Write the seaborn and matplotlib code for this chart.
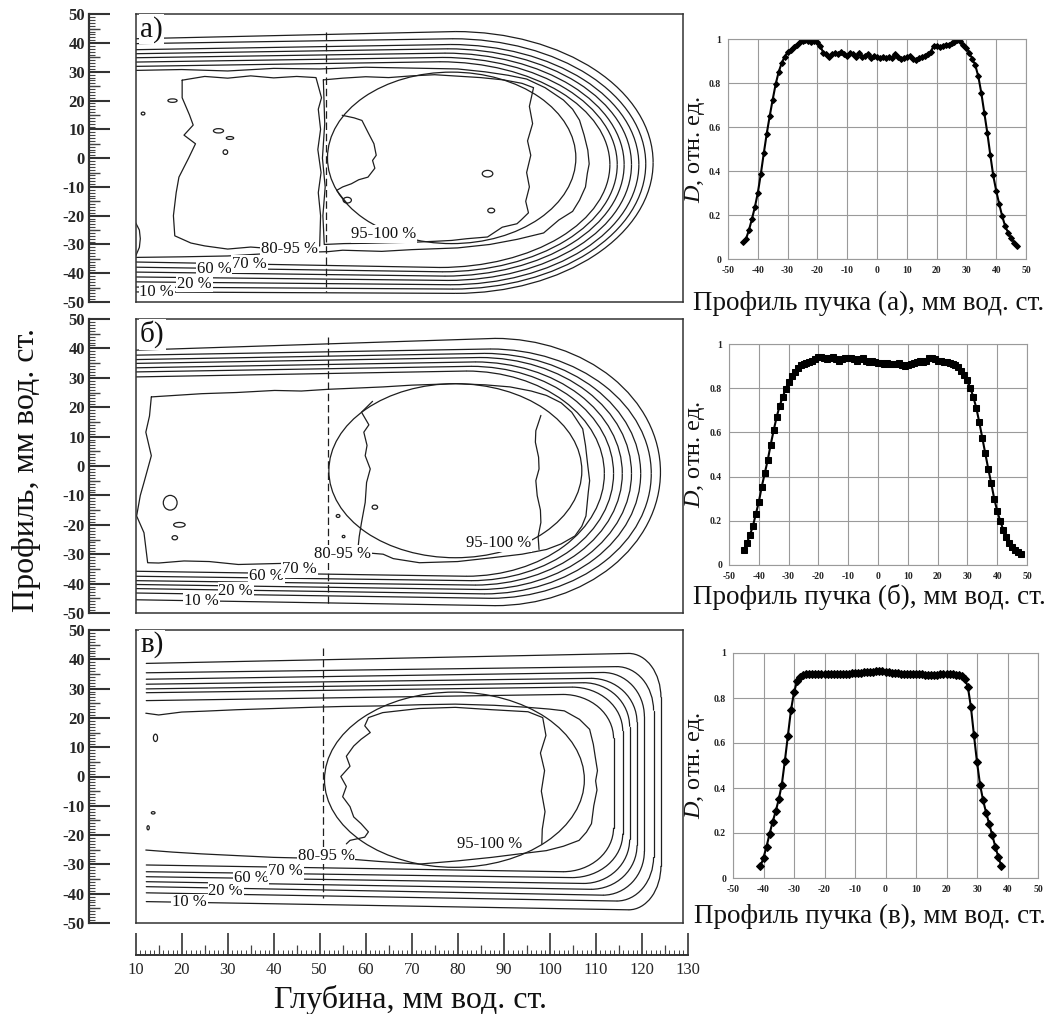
import numpy as np
import pandas as pd
import matplotlib
matplotlib.use("Agg")
import matplotlib.pyplot as plt
import seaborn as sns
from matplotlib.patches import Arc, Ellipse
from matplotlib.ticker import MultipleLocator

# ------------------------------------------------------------------
# Lateral beam profiles (right column), D in relative units
# ------------------------------------------------------------------
prof_a_x = list(range(-45, 48))
prof_a_d = [0.077, 0.09, 0.13, 0.18, 0.235, 0.30, 0.385, 0.48, 0.57, 0.65,
            0.725, 0.795, 0.85, 0.89, 0.92, 0.94, 0.95, 0.965, 0.975, 0.985,
            0.99, 0.995, 0.99, 0.985, 0.99, 0.985, 0.97, 0.935, 0.93, 0.92,
            0.93, 0.935, 0.93, 0.94, 0.93, 0.925, 0.935, 0.93, 0.92, 0.935,
            0.92, 0.925, 0.93, 0.915, 0.925, 0.92, 0.915, 0.918, 0.915, 0.92,
            0.915, 0.93, 0.92, 0.91, 0.915, 0.92, 0.925, 0.91, 0.905, 0.915,
            0.92, 0.925, 0.93, 0.94, 0.97, 0.97, 0.965, 0.97, 0.975, 0.975,
            0.98, 0.985, 0.995, 0.99, 0.975, 0.96, 0.935, 0.91, 0.88, 0.83,
            0.755, 0.665, 0.575, 0.475, 0.38, 0.31, 0.25, 0.195, 0.15, 0.12,
            0.095, 0.075, 0.06]

prof_b_x = list(range(-45, 49))
prof_b_d = [0.07, 0.10, 0.135, 0.175, 0.23, 0.285, 0.355, 0.415, 0.475, 0.545,
            0.61, 0.67, 0.72, 0.76, 0.795, 0.83, 0.855, 0.875, 0.89, 0.905,
            0.91, 0.915, 0.92, 0.925, 0.93, 0.94, 0.94, 0.935, 0.93, 0.935,
            0.94, 0.93, 0.925, 0.93, 0.935, 0.935, 0.935, 0.93, 0.925, 0.93,
            0.935, 0.925, 0.92, 0.925, 0.92, 0.915, 0.915, 0.91, 0.912, 0.91,
            0.91, 0.91, 0.915, 0.905, 0.90, 0.905, 0.91, 0.915, 0.92, 0.925,
            0.92, 0.925, 0.935, 0.935, 0.93, 0.925, 0.925, 0.92, 0.92, 0.915,
            0.91, 0.905, 0.895, 0.88, 0.86, 0.835, 0.80, 0.76, 0.71, 0.645,
            0.575, 0.505, 0.435, 0.37, 0.30, 0.245, 0.20, 0.16, 0.125, 0.10,
            0.08, 0.068, 0.06, 0.052]

prof_c_x = list(range(-41, 39))
prof_c_d = [0.052, 0.09, 0.14, 0.197, 0.25, 0.296, 0.35, 0.415, 0.52, 0.633,
            0.745, 0.825, 0.874, 0.895, 0.903, 0.905, 0.906, 0.906, 0.905, 0.905,
            0.905, 0.905, 0.905, 0.905, 0.905, 0.906, 0.906, 0.907, 0.908, 0.908,
            0.91, 0.91, 0.912, 0.913, 0.914, 0.915, 0.916, 0.917, 0.918, 0.918,
            0.918, 0.917, 0.915, 0.913, 0.911, 0.91, 0.908, 0.907, 0.906, 0.906,
            0.905, 0.905, 0.905, 0.905, 0.904, 0.904, 0.904, 0.904, 0.904, 0.905,
            0.905, 0.905, 0.905, 0.905, 0.904, 0.902, 0.898, 0.885, 0.85, 0.76,
            0.635, 0.515, 0.415, 0.345, 0.29, 0.24, 0.19, 0.14, 0.093, 0.052]

profile_xlabels = ["Профиль пучка (а), мм вод. ст.",
                   "Профиль пучка (б), мм вод. ст.",
                   "Профиль пучка (в), мм вод. ст."]
profile_markers = ["D", "s", "D"]

# ------------------------------------------------------------------
# Isodose lines 10..70 % (depth x, profile y, mm of water)
# ------------------------------------------------------------------
iso_levels = [10, 20, 30, 40, 50, 60, 70]

a_top_in = [41.5, 39.8, 37.7, 36.3, 34.9, 33.4, 31.9]
a_top_bend = [44.0, 41.5, 39.5, 38.0, 36.5, 35.0, 33.5]
a_bot_in = [-46.5, -44.8, -43.0, -41.3, -39.6, -37.9, -36.1]
a_bot_bend = [-47.0, -45.5, -44.0, -42.5, -41.0, -39.5, -38.0]
a_x_dist = [122.5, 120.9, 119.4, 117.8, 116.2, 114.7, 113.1]
a_rx = [43, 42, 41, 40, 39, 38, 37]

b_top_in = [39.4, 37.7, 36.2, 34.9, 33.4, 32.0, 30.3]
b_top_bend = [43.4, 39.8, 38.3, 36.9, 35.4, 33.9, 32.3]
b_bot_in = [-45.5, -43.2, -41.7, -40.3, -39.0, -37.5, -35.8]
b_bot_bend = [-47.5, -45.0, -43.5, -42.0, -40.5, -39.0, -37.5]
b_x_dist = [124.1, 122.1, 119.8, 117.8, 115.8, 113.9, 111.9]
b_rx = [36, 35, 34, 33, 32, 31, 30]

c_top_in = [38.6, 35.4, 33.2, 31.5, 29.9, 28.6, 25.9]
c_top_bend = [42.0, 37.5, 35.5, 33.5, 32.0, 30.5, 28.0]
c_bot_in = [-42.7, -39.7, -37.6, -35.9, -34.2, -32.5, -30.2]
c_bot_bend = [-45.5, -42.5, -40.5, -38.5, -36.5, -34.5, -32.5]
c_x_dist = [124.2, 122.6, 120.6, 119.0, 117.4, 115.9, 113.9]
c_rx = [7, 8, 9, 10, 10, 11, 11]
c_ry = [15, 15, 15, 15, 15, 15, 15]

# 80 % isodose (wiggly)
a80_x = [10, 20, 30, 40, 50, 60, 70, 80, 86, 91, 95, 99, 103, 105, 106.5, 107.5,
         108.3, 108.6, 108.2, 107.8, 106.5, 105, 102, 98.7, 93, 87, 80, 70, 63.5,
         55, 51.8, 45, 39.3, 30, 20, 10]
a80_y = [30.5, 30.8, 30.3, 31.2, 31.0, 31.6, 31.3, 31.0, 30.0, 28.8, 27.5, 24.5,
         20.2, 17.0, 13.2, 8.0, 2.8, -2.0, -5.3, -10.0, -14.6, -18.5, -21.5, -26.0,
         -28.2, -30.0, -31.2, -31.8, -32.4, -32.0, -32.5, -32.8, -33.1, -34.0,
         -34.3, -34.5]

b80_x = [13.4, 24.4, 32, 40.2, 46, 52, 58, 63.8, 70, 79.6, 86, 91.4, 96, 99.3,
         102.5, 104.8, 107.2, 107.8, 108.3, 108.7, 108.4, 107.9, 107.0, 105.5,
         102.5, 99.3, 94, 87.5, 80, 71.7, 66, 63.8, 60, 56, 52, 48.1, 40, 32.3,
         26, 20.5, 15, 12.6, 11.8, 10.2, 11.0, 11.8, 13.4, 12.2, 13.0, 13.4]
b80_y = [23.5, 24.6, 25.0, 25.7, 25.5, 26.1, 26.5, 26.9, 27.5, 28.0, 27.6, 26.9,
         25.5, 24.0, 21.5, 18.3, 12.6, 7.0, 0.1, -5.0, -9.0, -17.0, -20.5, -23.8,
         -26.5, -28.4, -30.0, -31.2, -32.5, -32.9, -31.5, -30.0, -29.5, -28.4,
         -30.5, -32.9, -33.2, -33.5, -32.5, -32.3, -33.0, -32.9, -22.7, -17.0,
         -10.0, -5.6, 3.5, 11.5, 17.0, 23.5]

c80_x = [12.2, 15, 20, 25, 32.1, 40, 47.9, 55, 63.7, 72, 79.5, 88, 95.3, 100,
         103.2, 106.5, 108.7, 109.5, 109.9, 110.4, 110.0, 110.3, 109.6, 109.1,
         108.0, 106.4, 103, 99.3, 93, 87.4, 80, 71.6, 63, 55.8, 48, 40, 32,
         24.2, 18, 12.2]
c80_y = [21.6, 21.0, 22.0, 22.3, 22.8, 23.2, 23.6, 23.9, 24.1, 24.5, 24.7, 24.3,
         23.6, 23.0, 22.4, 19.5, 16.1, 11.0, 6.9, 2.0, -1.5, -4.6, -10.0, -16.1,
         -19.0, -21.8, -23.8, -25.3, -26.5, -27.6, -28.8, -29.9, -29.0, -28.1,
         -27.9, -27.6, -27.0, -26.4, -25.8, -25.1]

# 95 % isodose pieces
a95_left_x = [20.1, 25, 30, 35, 40, 45, 49.2, 49.8, 50.4, 49.7, 50.2, 49.6, 50.3,
              49.7, 50.2, 50.0, 45, 40, 35, 30, 25, 22, 18.5, 18.2, 18.8, 19.4,
              21.5, 23.0, 20.5, 22.5, 21.7, 20.1, 20.1]
a95_left_y = [27.1, 28.4, 27.8, 28.6, 27.9, 28.4, 28.0, 24.5, 21.0, 17.0, 10.0,
              3.0, -5.0, -12.0, -20.0, -30.5, -31.2, -31.5, -30.9, -31.6, -30.5,
              -29.5, -27.0, -20.0, -12.0, -6.6, 0.0, 5.0, 8.0, 11.5, 15.0, 21.0, 27.1]
a95_right_x = [50.8, 55, 60, 65, 70, 75, 80, 85, 90, 94, 96.5, 95.6, 96.3, 95.2,
               95.9, 95.0, 95.6, 94.8, 95.4, 93.8, 92.9, 89.7, 86.5, 82, 78.7, 75,
               70.9, 65, 60, 55.3, 51.0, 50.7, 51.2, 50.6, 51.1, 50.8]
a95_right_y = [27.2, 27.8, 28.3, 28.0, 28.6, 29.0, 28.5, 28.0, 27.2, 26.0, 24.5,
               18.0, 12.0, 6.0, 1.0, -5.0, -10.0, -15.0, -19.0, -21.5, -22.8, -24.0,
               -27.4, -28.0, -28.6, -28.9, -29.2, -29.4, -29.6, -29.7, -30.0, -20.0,
               -10.0, 0.0, 12.0, 27.2]
a95_inner_x = [54.9, 57.5, 59.2, 60.5, 61.8, 62.3, 61.5, 62.0, 60.5, 58.5, 56.9,
               55.0, 53.7, 54.8, 56.0]
a95_inner_y = [14.9, 14.0, 13.1, 9.0, 5.0, 1.0, -0.8, -3.5, -6.6, -7.5, -8.9,
               -10.0, -11.2, -13.5, -15.8]

b95_left_x = [61.5, 59.1, 60.7, 59.6, 60.3, 59.9, 61.0, 60.2, 59.9, 59.1, 58.6, 58.3]
b95_left_y = [22.0, 18.3, 14.0, 11.5, 7.0, 3.5, -1.0, -5.6, -12.4, -19.2, -24.0, -28.4]
b95_right_x = [98.1, 97.0, 96.9, 97.6, 97.7, 97.0, 97.3, 98.0, 98.1, 97.5, 97.7]
b95_right_y = [17.2, 12.0, 8.1, 3.0, -1.0, -5.0, -10.1, -15.0, -19.2, -24.0, -28.4]

c95_x = [55.8, 56.6, 59.8, 60.6, 59.0, 57.4, 56.6, 55.0, 55.8, 54.6, 56.6, 55.8,
         57.4, 59.0, 61.0, 59.8, 60.6, 63.7, 71.6, 79.5, 87.4, 95.3, 98.5, 99.2,
         98.0, 98.9, 98.2, 99.0, 98.4, 98.3]
c95_y = [-23.0, -21.8, -20.7, -18.9, -16.1, -13.8, -10.3, -6.9, -3.4, 0.0, 3.5,
         6.9, 10.4, 12.7, 15.0, 17.3, 20.1, 21.8, 23.2, 23.6, 22.8, 22.1, 20.1,
         14.0, 8.0, 2.0, -5.0, -12.0, -18.0, -23.0]

# small islands (x, y, w, h)
a_blob_x = [18.0, 28.0, 30.5, 29.5, 86.5, 87.3, 11.6, 56.0]
a_blob_y = [20.0, 9.5, 7.0, 2.1, -5.4, -18.2, 15.5, -14.6]
a_blob_w = [2.0, 2.2, 1.6, 1.0, 2.3, 1.5, 0.8, 1.8]
a_blob_h = [1.2, 1.5, 1.0, 1.6, 2.3, 1.6, 1.0, 2.0]
b_blob_x = [17.5, 19.5, 18.5, 54.0, 55.2, 62.0]
b_blob_y = [-12.5, -20.0, -24.4, -17.0, -24.0, -14.0]
b_blob_w = [3.0, 2.5, 1.2, 0.8, 0.6, 1.2]
b_blob_h = [5.0, 1.6, 1.4, 1.0, 0.8, 1.4]
c_blob_x = [14.3, 13.8, 12.7]
c_blob_y = [13.2, -12.4, -17.5]
c_blob_w = [0.9, 0.8, 0.5]
c_blob_h = [2.5, 0.8, 1.4]

# tumour outline (ellipse) and marked depth (dashed)
target_cx = [78.7, 79.5, 79.3]
target_cy = [0.1, -1.6, -1.1]
target_w = [54.0, 55.0, 56.5]
target_h = [59.6, 59.2, 59.8]
mark_depth = [51.3, 51.8, 50.8]
mark_top = [43.9, 44.0, 43.9]
mark_bot = [-46.5, -47.0, -41.5]

panel_names = ["а)", "б)", "в)"]
lbl_texts = ["10 %", "20 %", "60 %", "70 %", "80-95 %", "95-100 %"]
a_lbl_x = [10.8, 19.0, 23.3, 31.0, 37.3, 56.9]
a_lbl_y = [-46.5, -43.6, -38.4, -36.7, -31.5, -26.3]
b_lbl_x = [20.5, 28.0, 34.7, 41.8, 48.8, 81.9]
b_lbl_y = [-46.0, -42.6, -37.5, -35.2, -30.0, -26.1]
c_lbl_x = [17.9, 25.8, 31.3, 38.8, 45.2, 79.9]
c_lbl_y = [-43.0, -39.0, -34.5, -32.2, -27.0, -23.0]

depth_ticks = list(range(10, 131, 10))
profile_ticks = list(range(-50, 51, 10))
dose_ticks = [0, 0.2, 0.4, 0.6, 0.8, 1.0]
dose_ticklabels = ["0", "0.2", "0.4", "0.6", "0.8", "1"]

# ------------------------------------------------------------------
sns.set_theme(style="white")
plt.rcParams["font.family"] = ["Liberation Serif", "DejaVu Serif"]
plt.rcParams["mathtext.fontset"] = "custom"
plt.rcParams["mathtext.rm"] = "Liberation Serif"
plt.rcParams["mathtext.it"] = "Liberation Serif:italic"
plt.rcParams["axes.unicode_minus"] = False

W, H = 1047, 1014
fig = plt.figure(figsize=(W / 100, H / 100), dpi=100)
fig.patch.set_facecolor("white")


def fr(left, top, right, bottom):
    return [left / W, 1 - bottom / H, (right - left) / W, (bottom - top) / H]


LC = "#1e1e1e"
LW = 0.9


def draw_u(ax, x0, yt0, yt1, yb0, yb1, xd, rx, ry=None):
    if ry is None:
        ry = (yt1 - yb1) / 2.0
    xc = xd - rx
    ax.plot([x0, xc], [yt0, yt1], color=LC, lw=LW)
    ax.add_patch(Arc((xc, yt1 - ry), 2 * rx, 2 * ry, theta1=0, theta2=90,
                     edgecolor=LC, lw=LW))
    if yt1 - ry > yb1 + ry:
        ax.plot([xd, xd], [yt1 - ry, yb1 + ry], color=LC, lw=LW)
    ax.add_patch(Arc((xc, yb1 + ry), 2 * rx, 2 * ry, theta1=270, theta2=360,
                     edgecolor=LC, lw=LW))
    ax.plot([xc, x0], [yb1, yb0], color=LC, lw=LW)


contour_boxes = [fr(135.7, 14.3, 683, 302), fr(135.7, 319, 683, 613), fr(135.7, 630, 683, 923)]
U_sets = [
    (10.0, a_top_in, a_top_bend, a_bot_in, a_bot_bend, a_x_dist, a_rx, None),
    (10.0, b_top_in, b_top_bend, b_bot_in, b_bot_bend, b_x_dist, b_rx, None),
    (12.3, c_top_in, c_top_bend, c_bot_in, c_bot_bend, c_x_dist, c_rx, c_ry),
]
iso80 = [(a80_x, a80_y), (b80_x, b80_y), (c80_x, c80_y)]
iso95 = [[(a95_left_x, a95_left_y), (a95_right_x, a95_right_y), (a95_inner_x, a95_inner_y)],
         [(b95_left_x, b95_left_y), (b95_right_x, b95_right_y)],
         [(c95_x, c95_y)]]
blobs = [(a_blob_x, a_blob_y, a_blob_w, a_blob_h),
         (b_blob_x, b_blob_y, b_blob_w, b_blob_h),
         (c_blob_x, c_blob_y, c_blob_w, c_blob_h)]
lbls = [(a_lbl_x, a_lbl_y), (b_lbl_x, b_lbl_y), (c_lbl_x, c_lbl_y)]

for i in range(3):
    ax = fig.add_axes(contour_boxes[i])
    ax.set_xlim(10, 129)
    ax.set_ylim(-50, 50)
    ax.set_xticks([])
    ax.set_yticks([])
    for s in ax.spines.values():
        s.set_visible(True)
        s.set_color("#333333")
        s.set_linewidth(1.1)
    x0, ti, tb, bi, bb, xd, rx, ry = U_sets[i]
    for k in range(len(iso_levels)):
        draw_u(ax, x0, ti[k], tb[k], bi[k], bb[k], xd[k], rx[k],
               None if ry is None else ry[k])
    ax.plot(iso80[i][0], iso80[i][1], color=LC, lw=LW)
    for px, py in iso95[i]:
        ax.plot(px, py, color=LC, lw=LW)
    bx, by, bw, bh = blobs[i]
    for k in range(len(bx)):
        ax.add_patch(Ellipse((bx[k], by[k]), bw[k], bh[k], fill=False,
                             edgecolor=LC, lw=LW))
    ax.add_patch(Ellipse((target_cx[i], target_cy[i]), target_w[i], target_h[i],
                         fill=False, edgecolor=LC, lw=LW))
    ax.plot([mark_depth[i], mark_depth[i]], [mark_top[i], mark_bot[i]],
            color=LC, lw=0.9, ls=(0, (6, 3)))
    if i == 0:
        ax.plot([10, 10.8, 11.0, 10.8, 10], [-22.5, -25, -28, -31, -34], color=LC, lw=LW)
    lx, ly = lbls[i]
    for k, t in enumerate(lbl_texts):
        ax.text(lx[k], ly[k], t, ha="left", va="center", fontsize=12,
                color="#111111",
                bbox=dict(boxstyle="square,pad=0.05", fc="white", ec="none"))
    ax.text(0.008, 0.995, panel_names[i], transform=ax.transAxes, ha="left",
            va="top", fontsize=21, color="#111111",
            bbox=dict(boxstyle="square,pad=0.05", fc="white", ec="none"))

    # left scale for this panel
    sc = fig.add_axes([89 / W, contour_boxes[i][1], 0.0005, contour_boxes[i][3]])
    sc.set_ylim(-50, 50)
    sc.set_xticks([])
    for nm, s in sc.spines.items():
        s.set_visible(nm == "left")
    sc.spines["left"].set_color("#333333")
    sc.spines["left"].set_linewidth(1.6)
    sc.yaxis.set_major_locator(MultipleLocator(10))
    sc.yaxis.set_minor_locator(MultipleLocator(1))
    sc.tick_params(axis="y", which="major", direction="in", length=15, width=1.5,
                   color="#333333", labelsize=12, pad=3, left=True)
    sc.tick_params(axis="y", which="minor", direction="in", length=4, width=0.8,
                   color="#444444", left=True)
    for t in sc.get_yticklabels():
        t.set_fontweight("bold")
    sc.patch.set_alpha(0)
    sc2 = fig.add_axes([89 / W, contour_boxes[i][1], 0.0005, contour_boxes[i][3]])
    sc2.set_ylim(-50, 50)
    sc2.set_xticks([])
    sc2.set_yticks(list(range(-45, 50, 10)))
    sc2.tick_params(axis="y", direction="in", length=8, width=1.0, color="#444444",
                    labelleft=False, left=True)
    for s in sc2.spines.values():
        s.set_visible(False)
    sc2.patch.set_alpha(0)

fig.text(27 / W, 1 - 470 / H, "Профиль, мм вод. ст.", rotation=90, ha="center",
         va="center", fontsize=23, color="#111111")

# bottom depth scale
dx = fig.add_axes([135.7 / W, 1 - 955 / H, 552 / W, 0.0005])
dx.set_xlim(10, 130)
dx.set_yticks([])
for nm, s in dx.spines.items():
    s.set_visible(nm == "bottom")
dx.spines["bottom"].set_color("#333333")
dx.spines["bottom"].set_linewidth(1.4)
dx.set_xticks(depth_ticks)
dx.xaxis.set_minor_locator(MultipleLocator(1))
dx.tick_params(axis="x", which="major", direction="in", length=16, width=1.2,
               color="#333333", labelsize=12, pad=5, bottom=True)
dx.tick_params(axis="x", which="minor", direction="in", length=3.5, width=0.7,
               color="#444444", bottom=True)
dx.patch.set_alpha(0)
dx2 = fig.add_axes([135.7 / W, 1 - 955 / H, 552 / W, 0.0005])
dx2.set_xlim(10, 130)
dx2.set_yticks([])
dx2.set_xticks(list(range(15, 130, 10)))
dx2.tick_params(axis="x", direction="in", length=7, width=0.9, color="#444444",
                labelbottom=False, bottom=True)
for s in dx2.spines.values():
    s.set_visible(False)
dx2.patch.set_alpha(0)
fig.text(411 / W, 1 - 1000 / H, "Глубина, мм вод. ст.", ha="center", va="center",
         fontsize=23, color="#111111")

# ------------------------------------------------------------------
# right column: lateral profiles
# ------------------------------------------------------------------
prof_boxes = [fr(728, 39, 1026, 259), fr(729, 344, 1027, 565), fr(733, 653, 1038, 878)]
prof_x = [prof_a_x, prof_b_x, prof_c_x]
prof_d = [prof_a_d, prof_b_d, prof_c_d]
msizes = [3, 4.2, 4.2]
xlabel_y = [303, 597, 916]
xlabel_cx = [869, 869, 870]

for i in range(3):
    ax = fig.add_axes(prof_boxes[i])
    df = pd.DataFrame({"x": prof_x[i], "D": prof_d[i]})
    sns.lineplot(data=df, x="x", y="D", ax=ax, color="black", lw=1.5,
                 marker=profile_markers[i], markersize=msizes[i],
                 markeredgecolor="black", markerfacecolor="black")
    ax.set_xlim(-50, 50)
    ax.set_ylim(0, 1)
    ax.set_xticks(profile_ticks)
    ax.set_yticks(dose_ticks)
    ax.set_yticklabels(dose_ticklabels)
    ax.grid(True, color="#9a9a9a", lw=0.8)
    for s in ax.spines.values():
        s.set_visible(True)
        s.set_color("#9a9a9a")
        s.set_linewidth(0.8)
    ax.tick_params(axis="both", length=0, labelsize=7, pad=5, colors="#222222")
    for t in ax.get_xticklabels() + ax.get_yticklabels():
        t.set_fontweight("bold")
    ax.set_xlabel("")
    ax.set_ylabel("")
    b = prof_boxes[i]
    ax.text((xlabel_cx[i] / W - b[0]) / b[2], ((1 - xlabel_y[i] / H) - b[1]) / b[3],
            profile_xlabels[i], transform=ax.transAxes, ha="center", va="center",
            fontsize=19.5, color="#111111")
    ax.text((695 / W - b[0]) / b[2], 0.5, "$D$, отн. ед.", transform=ax.transAxes,
            rotation=90, ha="center", va="center", fontsize=17.5, color="#111111")

fig.savefig("out.png", dpi=100, facecolor="white")
